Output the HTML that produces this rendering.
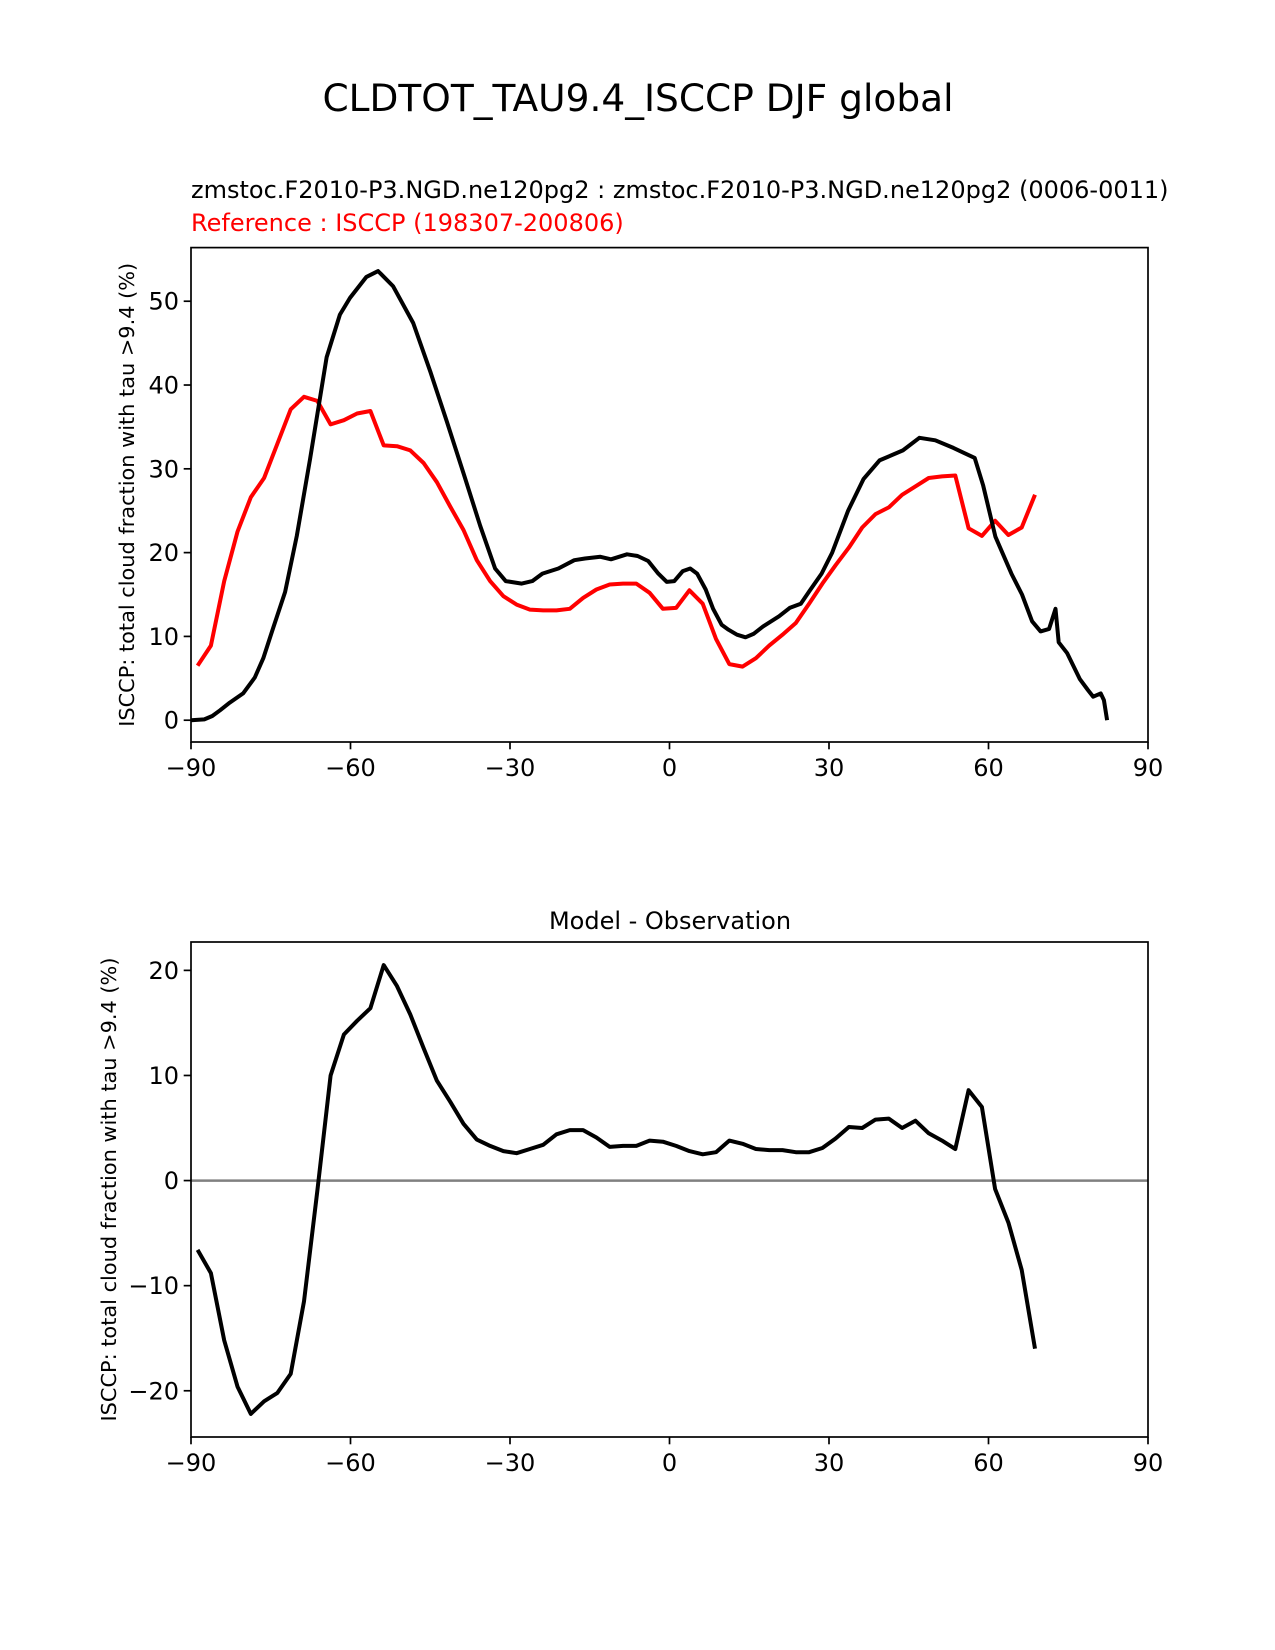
<!DOCTYPE html>
<html><head><meta charset="utf-8"><style>
html,body{margin:0;padding:0;background:#fff;}
svg{display:block;font-family:"DejaVu Sans","Liberation Sans",sans-serif;}
</style></head><body>
<svg id="fig" width="1275" height="1650" viewBox="0 0 1275 1650" xmlns="http://www.w3.org/2000/svg">
<rect width="1275" height="1650" fill="#fff"/>
<text x="638" y="111" font-size="37.5" text-anchor="middle">CLDTOT_TAU9.4_ISCCP DJF global</text>
<text x="191" y="198" font-size="24">zmstoc.F2010-P3.NGD.ne120pg2 : zmstoc.F2010-P3.NGD.ne120pg2 (0006-0011)</text>
<text x="191" y="231" font-size="24" fill="#ff0000">Reference : ISCCP (198307-200806)</text>
<text x="670" y="929" font-size="24" text-anchor="middle">Model - Observation</text>
<g id="topG"></g>
<g id="botG"></g>
</svg>
<script>
const refLats = [];
for (let k = 0; k < 64; k++) refLats.push(-88.75 + 2.5 * k);
const refValues = [6.5,8.9,16.6,22.5,26.6,28.9,33,37.1,38.6,38.1,35.3,35.8,36.6,36.9,32.8,32.7,32.2,30.7,28.4,25.5,22.7,19.1,16.6,14.8,13.8,13.2,13.1,13.1,13.3,14.6,15.6,16.2,16.3,16.3,15.2,13.3,13.4,15.5,13.9,9.7,6.7,6.4,7.4,8.9,10.2,11.6,13.9,16.3,18.5,20.6,23,24.6,25.4,26.9,27.9,28.9,29.1,29.2,22.9,22.0,23.8,22.1,23.0,26.9];
const diffValues = [-6.6,-8.8,-15.2,-19.6,-22.2,-21,-20.2,-18.4,-11.5,-1,10,13.9,15.2,16.4,20.5,18.5,15.8,12.6,9.5,7.5,5.4,3.9,3.3,2.8,2.6,3.0,3.4,4.4,4.8,4.8,4.1,3.2,3.3,3.3,3.8,3.7,3.3,2.8,2.5,2.7,3.8,3.5,3.0,2.9,2.9,2.7,2.7,3.1,4.0,5.1,5.0,5.8,5.9,5.0,5.7,4.5,3.8,3.0,8.6,7.0,-0.8,-4,-8.5,-16];
const modelLats = [-90,-87.5,-86,-84.5,-82.7,-80.2,-78,-76.4,-74.5,-72.3,-70.1,-67.6,-64.5,-62,-60.1,-57,-54.8,-52,-48.2,-45,-41.9,-38.7,-35.6,-32.8,-30.8,-27.8,-25.8,-23.9,-20.9,-17.9,-15.9,-13,-11,-8,-6,-4,-2.1,-0.5,0.9,2.5,3.9,5.2,6.8,8.2,9.8,11.1,12.7,14.3,15.8,17.6,20.6,22.6,24.7,26.3,28.6,30.6,33.6,36.5,39.5,43.9,47,50,53.4,55.4,57.4,59,61.3,64.3,66.3,68.2,69.8,71.4,72.6,73.2,74.8,77.2,78.7,79.7,81.1,81.7,82.3];
const modelValues = [0,0.1,0.5,1.2,2.1,3.2,5.1,7.4,11.1,15.3,22,31.2,43.3,48.4,50.4,52.9,53.6,51.8,47.4,41.6,35.7,29.4,23.2,18.1,16.6,16.3,16.6,17.5,18.1,19.1,19.3,19.5,19.2,19.8,19.6,19,17.5,16.5,16.6,17.8,18.1,17.5,15.6,13.3,11.4,10.8,10.2,9.9,10.3,11.2,12.4,13.4,13.9,15.4,17.5,20,25,28.8,31,32.2,33.7,33.4,32.5,31.9,31.3,28,21.9,17.5,15,11.8,10.6,10.9,13.3,9.3,8,4.9,3.6,2.8,3.2,2.4,0];
const xTicks = [-90,-60,-30,0,30,60,90];
const xTickLabels = ["\u221290","\u221260","\u221230","0","30","60","90"];
const topYTicks = [0,10,20,30,40,50];
const botYTicks = [-20,-10,0,10,20];
const botYTickLabels = ["\u221220","\u221210","0","10","20"];

const NS = "http://www.w3.org/2000/svg";
function mk(parent, tag, attrs, text) {
  const e = document.createElementNS(NS, tag);
  for (const k in attrs) e.setAttribute(k, attrs[k]);
  if (text !== undefined) e.textContent = text;
  parent.appendChild(e);
  return e;
}
function panel(g, box, ymin, ymax, yTicks, yLabels, prefix, ylx) {
  const sx = v => box.x0 + (v + 90) / 180 * (box.x1 - box.x0);
  const sy = v => box.y1 - (v - ymin) / (ymax - ymin) * (box.y1 - box.y0);
  xTicks.forEach((t, i) => {
    const tk = mk(g, "line", {x1: sx(t), x2: sx(t), y1: box.y1, y2: box.y1 + 7.3, stroke: "#000", "stroke-width": 1.7});
    
    
    const tl = mk(g, "text", {x: sx(t), y: box.y1 + 34, "font-size": 24, "text-anchor": "middle"}, xTickLabels[i]);
    
    
  });
  yTicks.forEach((t, i) => {
    const tk = mk(g, "line", {x1: box.x0 - 7.3, x2: box.x0, y1: sy(t), y2: sy(t), stroke: "#000", "stroke-width": 1.7});
    
    
    const tl = mk(g, "text", {x: box.x0 - 12, y: sy(t) + 8.5, "font-size": 24, "text-anchor": "end"}, yLabels[i]);
    
    
  });
  const cy = (box.y0 + box.y1) / 2;
  const yl = mk(g, "text", {x: ylx, y: cy, "font-size": 20.8, "text-anchor": "middle", textLength: 464, lengthAdjust: "spacingAndGlyphs", transform: "rotate(-90 " + ylx + " " + cy + ")"}, "ISCCP: total cloud fraction with tau >9.4 (%)");
  
  
  return {sx, sy};
}
function line(g, sx, sy, xs, ys, color, name) {
  const d = xs.map((x, i) => (i ? "L" : "M") + sx(x).toFixed(1) + " " + sy(ys[i]).toFixed(1)).join(" ");
  const p = mk(g, "path", {d, fill: "none", stroke: color, "stroke-width": 4, "stroke-linejoin": "round"});
  
  
}
const topG = document.getElementById("topG");
const tb = {x0: 191, x1: 1148, y0: 247.6, y1: 742};
const T = panel(topG, tb, -2.6, 56.4, topYTicks, topYTicks.map(String), "top", 134);
line(topG, T.sx, T.sy, refLats, refValues, "#ff0000", "reference-line");
line(topG, T.sx, T.sy, modelLats, modelValues, "#000000", "model-line");
const tf = mk(topG, "rect", {x: tb.x0, y: tb.y0, width: tb.x1 - tb.x0, height: tb.y1 - tb.y0, fill: "none", stroke: "#000", "stroke-width": 1.7});



const botG = document.getElementById("botG");
const bb = {x0: 191, x1: 1148, y0: 942, y1: 1437};
const B = panel(botG, bb, -24.4, 22.7, botYTicks, botYTickLabels, "bottom", 116);
const zl = mk(botG, "line", {x1: bb.x0, x2: bb.x1, y1: B.sy(0), y2: B.sy(0), stroke: "#808080", "stroke-width": 2.5});


line(botG, B.sx, B.sy, refLats, diffValues, "#000000", "difference-line");
const bf = mk(botG, "rect", {x: bb.x0, y: bb.y0, width: bb.x1 - bb.x0, height: bb.y1 - bb.y0, fill: "none", stroke: "#000", "stroke-width": 1.7});


</script>
</body></html>
